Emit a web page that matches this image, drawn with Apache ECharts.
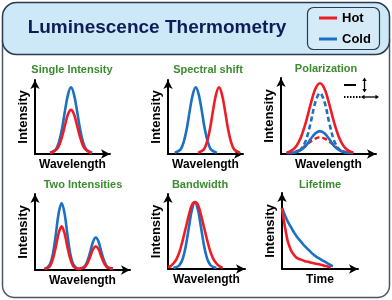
<!DOCTYPE html>
<html>
<head>
<meta charset="utf-8">
<script src="https://cdn.jsdelivr.net/npm/echarts@6/dist/echarts.min.js"></script>
<style>html,body{margin:0;padding:0;background:#fff}#c{width:392px;height:300px}</style>
</head>
<body>
<div id="c"></div>
<script>
// ---- Data (arbitrary units 0-100) ----
const panelTitles = ['Single Intensity', 'Spectral shift', 'Polarization', 'Two Intensities', 'Bandwidth', 'Lifetime'];
const legendNames = ['Hot', 'Cold'];

// Single Intensity
const singleX    = [20, 24, 28, 32, 36, 40, 44, 48, 52, 56, 60, 64, 68, 72, 76];
const singleCold = [0, 2, 5, 15, 33, 58, 80, 90, 80, 58, 33, 15, 5, 2, 0];
const singleHot  = [0, 1, 4, 10, 22, 38, 53, 59, 53, 38, 22, 10, 4, 1, 0];

// Spectral shift
const shiftColdX = [9, 13, 17, 21, 25, 29, 33, 37, 41, 45, 49, 53, 57, 61, 65];
const shiftCold  = [0, 2, 5, 15, 33, 58, 80, 90, 80, 58, 33, 15, 5, 2, 0];
const shiftHotX  = [40, 44, 48, 52, 56, 60, 64, 68, 72, 76, 80, 84, 88, 92, 96];
const shiftHot   = [0, 2, 5, 15, 33, 58, 80, 90, 80, 58, 33, 15, 5, 2, 0];

// Polarization
const polWideX    = [6, 11, 16, 21, 26, 31, 36, 41, 46, 51, 56, 61, 66, 71, 76];
const polHotPar   = [0, 3, 9, 21, 40, 64, 85, 93, 85, 64, 40, 21, 9, 3, 0];
const polHotPerp  = [0, 1, 2, 5, 10, 15, 19, 21, 19, 15, 10, 5, 2, 1, 0];
const polColdPerp = [0, 0, 1, 4, 9, 18, 26, 29, 26, 18, 9, 4, 1, 0, 0];
const polNarrowX  = [11, 16, 21, 26, 31, 36, 41, 46, 51, 56, 61, 66, 71];
const polColdPar  = [0, 1, 5, 16, 39, 67, 80, 67, 39, 16, 5, 1, 0];

// Two Intensities
const twoX    = [10, 13, 16, 19, 22, 25, 28, 31, 34, 37, 40, 43, 46, 49, 52, 55, 58, 61, 64, 67, 70, 73, 76, 79, 82];
const twoCold = [0, 2, 7, 21, 47, 75, 88, 75, 47, 21, 7, 2, 0, 1, 3, 10, 22, 36, 42, 36, 22, 10, 3, 1, 0];
const twoHot  = [0, 1, 4, 14, 30, 48, 57, 48, 30, 14, 4, 1, 0, 1, 2, 7, 16, 26, 30, 26, 16, 7, 2, 1, 0];

// Bandwidth
const bandColdX = [7, 11, 15, 19, 23, 27, 31, 35, 39, 43, 47, 51, 55, 59, 63];
const bandCold  = [0, 1, 4, 12, 29, 54, 78, 89, 78, 54, 29, 12, 4, 1, 0];
const bandHotX  = [0, 3, 7, 11, 15, 19, 23, 27, 31, 35, 39, 43, 47, 51, 55, 59, 63, 67, 71];
const bandHot   = [1, 2, 6, 12, 22, 37, 54, 71, 85, 89, 85, 71, 54, 37, 22, 12, 6, 2, 0];

// Lifetime
const timeX    = [0, 4, 8, 12, 16, 20, 25, 30, 35, 40, 45, 50, 55, 60, 67];
const lifeCold = [80, 70, 61, 54, 47, 41, 35, 29, 24, 19, 15, 12, 9, 6, 2];
const lifeHotX = [0, 2, 4, 6, 8, 12, 16, 20, 25, 30, 35, 40, 45, 50, 55, 60, 64];
const lifeHot  = [80, 66, 54, 43, 34, 23, 17, 13, 11, 9, 8, 6.5, 5.5, 4.5, 3, 2, 0.5];

// ---- Styling / layout ----
const HOT = '#ee1c25', COLD = '#1b70c2';
const FONT = '"Liberation Sans", Arial, sans-serif';
const grids = [
  {left: 35, top: 80, width: 75, height: 74},
  {left: 168, top: 80, width: 75, height: 74},
  {left: 281, top: 78, width: 95, height: 76},
  {left: 35, top: 194, width: 95, height: 76},
  {left: 168, top: 194, width: 77, height: 75},
  {left: 282, top: 193, width: 76, height: 76}
];
const titlePos = [[72, 70], [208, 70], [326, 69], [83, 185], [200, 185], [320, 185]];
const xNames = ['Wavelength', 'Wavelength', 'Wavelength', 'Wavelength', 'Wavelength', 'Time'];

const zip = (xs, ys) => xs.map((x, i) => [x, ys[i]]);

const xAxis = grids.map((g, i) => ({
  type: 'value', gridIndex: i, min: 0, max: 100,
  axisLine: {onZero: false, lineStyle: {color: '#000', width: 2}, symbol: ['none', 'arrow'], symbolSize: [7, 9]},
  axisTick: {show: false}, axisLabel: {show: false}, splitLine: {show: false},
  name: xNames[i], nameLocation: 'middle', nameGap: 5,
  nameTextStyle: {fontFamily: FONT, fontWeight: 'bold', fontSize: 12, color: '#000'}
}));
const yAxis = grids.map((g, i) => ({
  type: 'value', gridIndex: i, min: -1.5, max: 100,
  axisLine: {onZero: false, lineStyle: {color: '#000', width: 2}, symbol: ['none', 'arrow'], symbolSize: [7, 9]},
  axisTick: {show: false}, axisLabel: {show: false}, splitLine: {show: false},
  name: 'Intensity', nameLocation: 'middle', nameGap: 5,
  nameTextStyle: {fontFamily: FONT, fontWeight: 'bold', fontSize: 13, color: '#000'}
}));

function line(name, idx, data, color, dash) {
  return {
    type: 'line', name, xAxisIndex: idx, yAxisIndex: idx, data,
    smooth: 0.35, showSymbol: false, symbol: 'none', clip: false,
    color, lineStyle: {color, width: 2.6, type: dash ? [5, 3] : 'solid'},
    itemStyle: {color}
  };
}

const series = [
  line('Cold', 0, zip(singleX, singleCold), COLD),
  line('Hot', 0, zip(singleX, singleHot), HOT),
  line('Cold', 1, zip(shiftColdX, shiftCold), COLD),
  line('Hot', 1, zip(shiftHotX, shiftHot), HOT),
  line('Hot', 2, zip(polWideX, polHotPerp), HOT, true),
  line('Cold', 2, zip(polWideX, polColdPerp), COLD),
  line('Cold', 2, zip(polNarrowX, polColdPar), COLD, true),
  line('Hot', 2, zip(polWideX, polHotPar), HOT),
  line('Cold', 3, zip(twoX, twoCold), COLD),
  line('Hot', 3, zip(twoX, twoHot), HOT),
  line('Cold', 4, zip(bandColdX, bandCold), COLD),
  line('Hot', 4, zip(bandHotX, bandHot), HOT),
  line('Cold', 5, zip(timeX, lifeCold), COLD),
  line('Hot', 5, zip(lifeHotX, lifeHot), HOT)
];

const graphic = [
  {type: 'rect', z: -100, shape: {x: 2.5, y: 40, width: 387, height: 257.5, r: [0, 0, 12, 12]},
   style: {fill: '#fff', stroke: '#4b5766', lineWidth: 1.5}},
  {type: 'rect', z: -90, shape: {x: 2.5, y: 2.5, width: 387, height: 52, r: 14},
   style: {fill: '#cde8f6', stroke: '#2b3a4d', lineWidth: 1.5}},
  {type: 'rect', z: -80, shape: {x: 307.5, y: 7.5, width: 72, height: 42, r: 6},
   style: {fill: '#d5ecf8', stroke: '#2b3a4d', lineWidth: 1.2}},
  {type: 'text', z: 10, style: {text: 'Luminescence Thermometry', x: 157, y: 28, align: 'center', verticalAlign: 'middle',
   font: 'bold 19px ' + FONT, fill: '#0e1d5a'}},
  // polarization icons
  {type: 'line', z: 10, shape: {x1: 344, y1: 85, x2: 356, y2: 85}, style: {stroke: '#000', lineWidth: 2}},
  {type: 'line', z: 10, shape: {x1: 364.5, y1: 80, x2: 364.5, y2: 90}, style: {stroke: '#000', lineWidth: 1.3}},
  {type: 'polygon', z: 10, shape: {points: [[364.5, 77.5], [362.3, 81], [366.7, 81]]}, style: {fill: '#000'}},
  {type: 'polygon', z: 10, shape: {points: [[364.5, 92.5], [362.3, 89], [366.7, 89]]}, style: {fill: '#000'}},
  {type: 'line', z: 10, shape: {x1: 344, y1: 97, x2: 361, y2: 97}, style: {stroke: '#000', lineWidth: 2, lineDash: [1.5, 1.5]}},
  {type: 'line', z: 10, shape: {x1: 363, y1: 97, x2: 377, y2: 97}, style: {stroke: '#000', lineWidth: 1.3}},
  {type: 'polygon', z: 10, shape: {points: [[361, 97], [364.5, 94.8], [364.5, 99.2]]}, style: {fill: '#000'}},
  {type: 'polygon', z: 10, shape: {points: [[379, 97], [375.5, 94.8], [375.5, 99.2]]}, style: {fill: '#000'}}
].concat(panelTitles.map((t, i) => ({
  type: 'text', z: 10,
  style: {text: t, x: titlePos[i][0], y: titlePos[i][1], align: 'center', verticalAlign: 'middle',
          font: 'bold 11px ' + FONT, fill: '#3b8b2f'}
})));

const chart = echarts.init(document.getElementById('c'), null, {renderer: 'canvas'});
chart.setOption({
  animation: false,
  backgroundColor: '#fff',
  grid: grids,
  xAxis, yAxis, series, graphic,
  legend: {
    data: legendNames, orient: 'vertical', left: 319, top: 11, padding: 0,
    itemWidth: 18, itemHeight: 3, itemGap: 7, icon: 'rect', selectedMode: false,
    textStyle: {fontFamily: FONT, fontWeight: 'bold', fontSize: 13, color: '#000', lineHeight: 14}
  }
});
</script>
</body>
</html>
